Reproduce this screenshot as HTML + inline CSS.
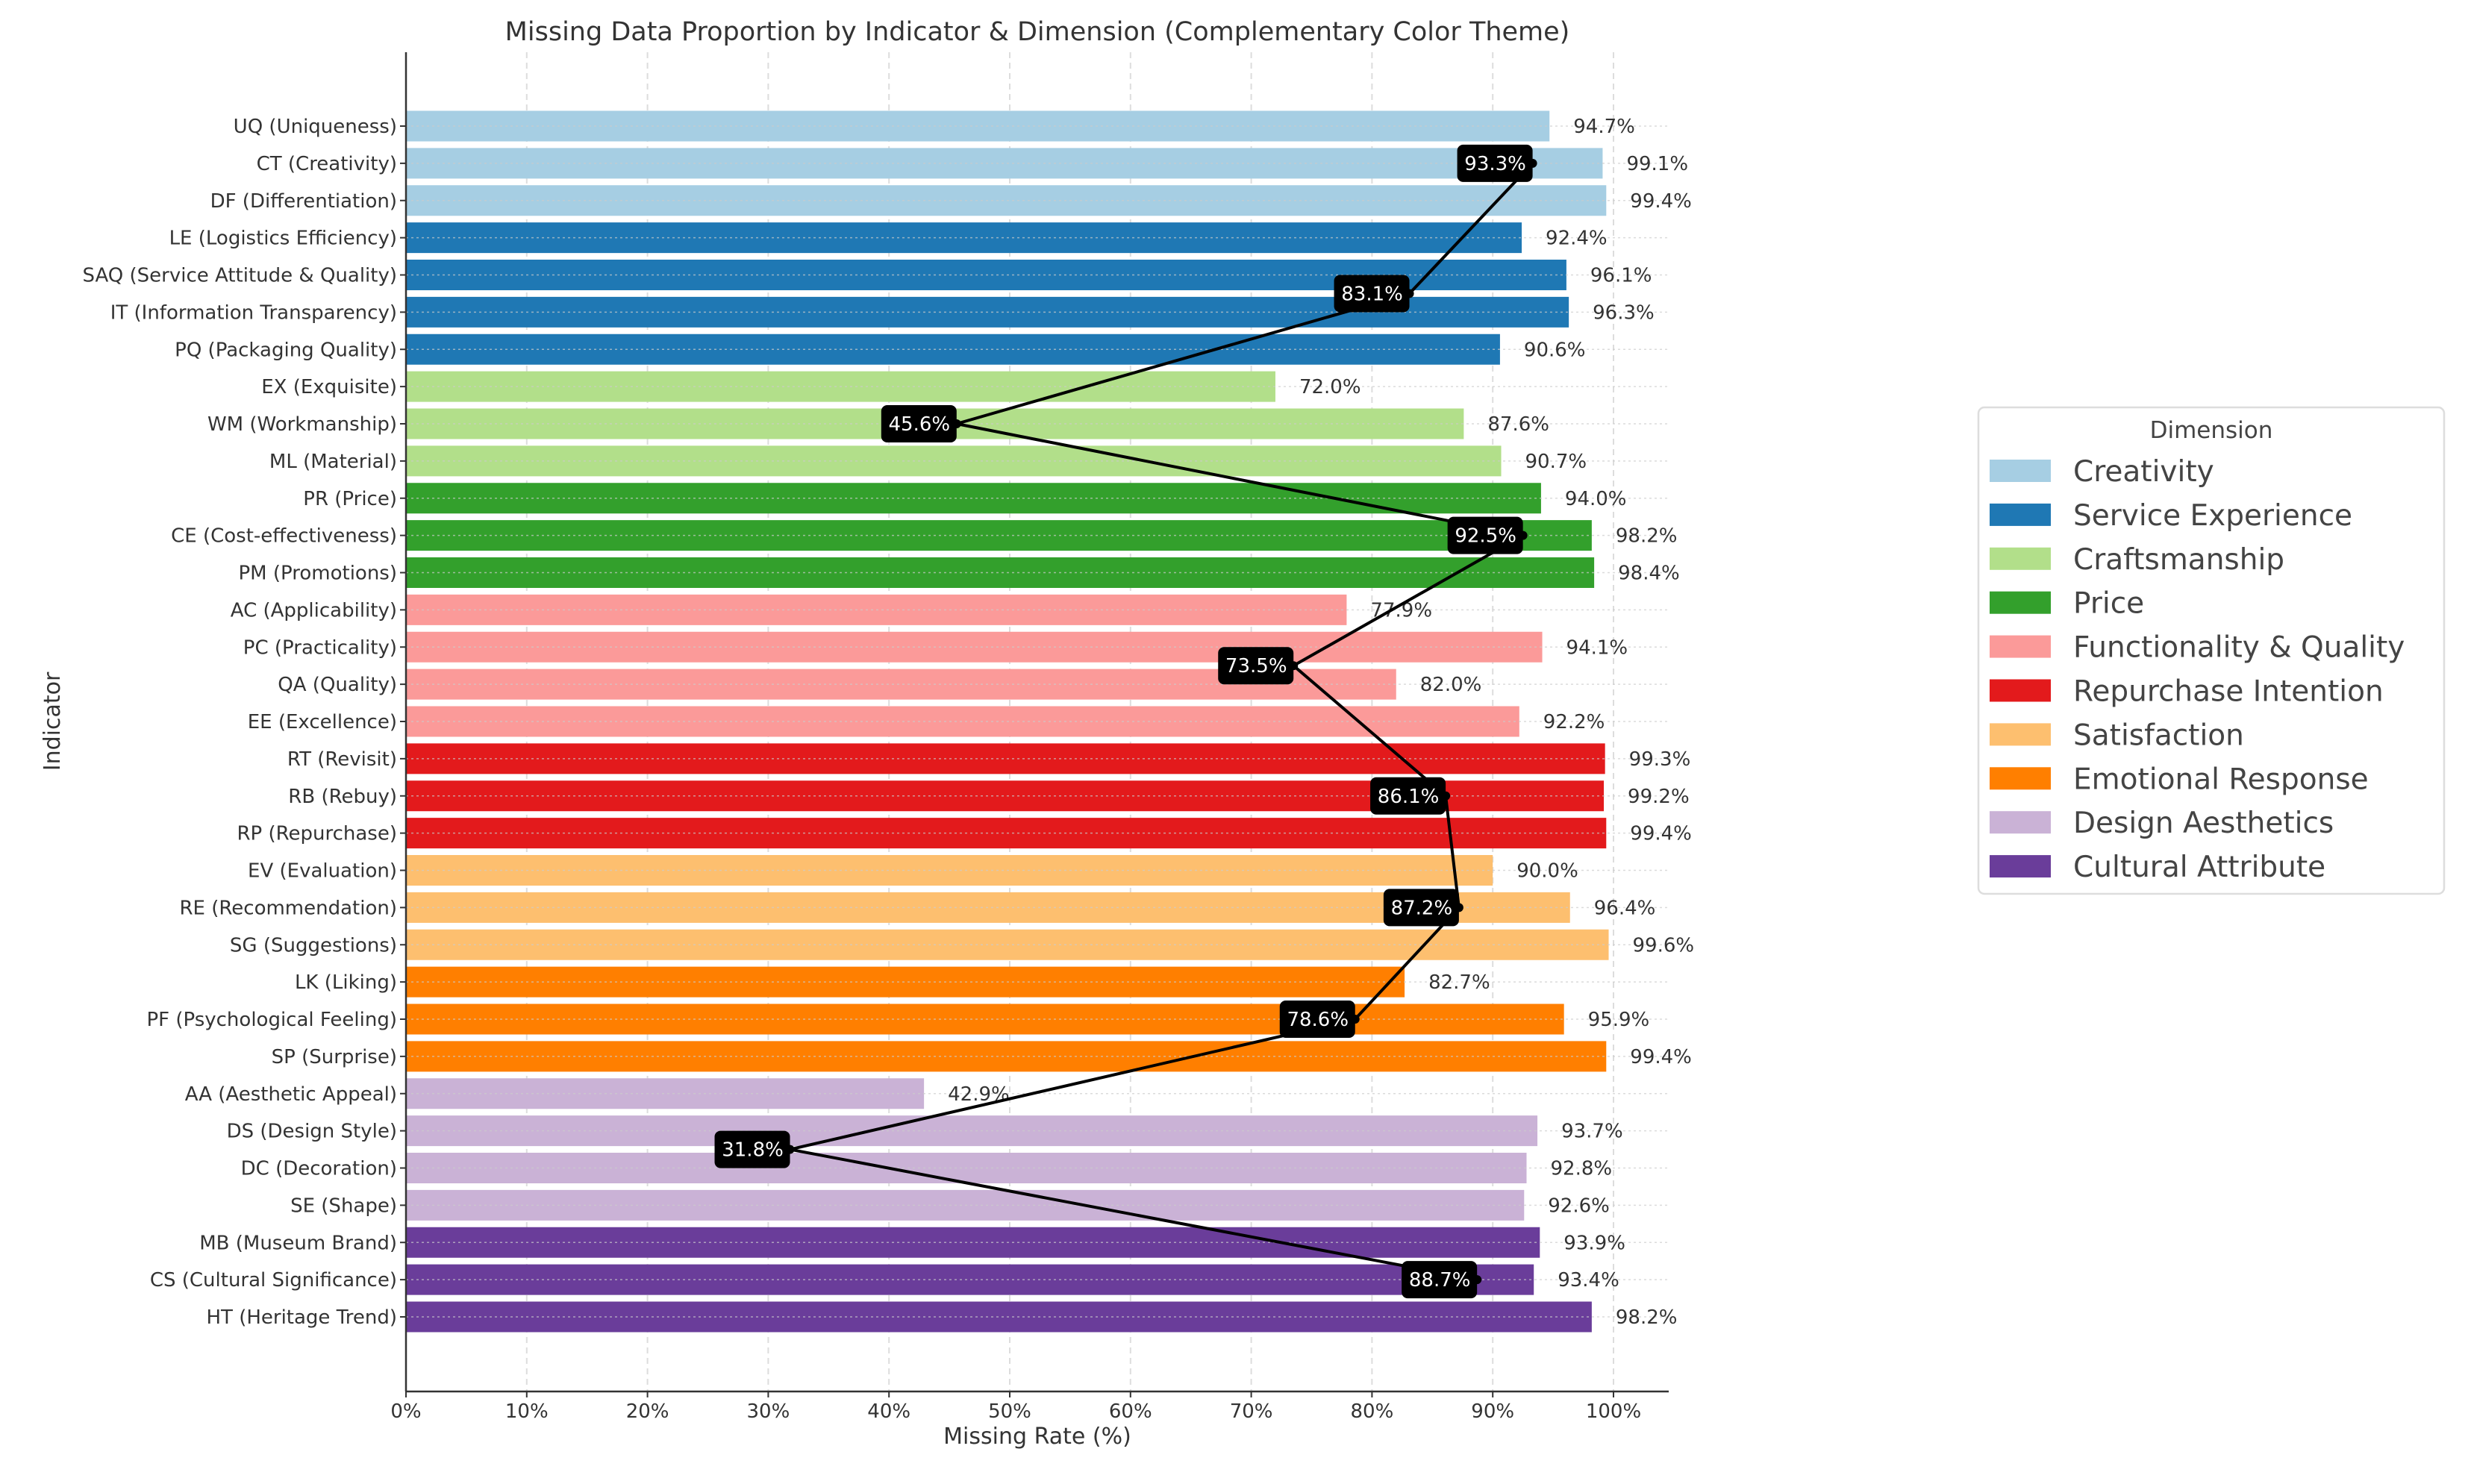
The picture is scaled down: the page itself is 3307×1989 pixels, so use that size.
<!DOCTYPE html>
<html><head><meta charset="utf-8">
<style>
html,body{margin:0;padding:0;background:#fff;}
svg{display:block;font-family:"DejaVu Sans","Liberation Sans",sans-serif;}
</style></head>
<body>
<svg id="chart" width="3307" height="1989" viewBox="0 0 3307 1989" xmlns="http://www.w3.org/2000/svg">
<text x="1390" y="54" font-size="35" text-anchor="middle" fill="#333">Missing Data Proportion by Indicator &amp; Dimension (Complementary Color Theme)</text>
<g id="grid"></g>
<g id="bars"></g>
<g id="axes"></g>
<g id="line"></g>
<text x="1390" y="1935" font-size="30" text-anchor="middle" fill="#333">Missing Rate (%)</text>
<text x="0" y="0" font-size="30" text-anchor="middle" fill="#333" transform="translate(80,967) rotate(-90)">Indicator</text>
<g id="legend"></g>
</svg>
<script>
const indicators = ["UQ (Uniqueness)","CT (Creativity)","DF (Differentiation)","LE (Logistics Efficiency)","SAQ (Service Attitude & Quality)","IT (Information Transparency)","PQ (Packaging Quality)","EX (Exquisite)","WM (Workmanship)","ML (Material)","PR (Price)","CE (Cost-effectiveness)","PM (Promotions)","AC (Applicability)","PC (Practicality)","QA (Quality)","EE (Excellence)","RT (Revisit)","RB (Rebuy)","RP (Repurchase)","EV (Evaluation)","RE (Recommendation)","SG (Suggestions)","LK (Liking)","PF (Psychological Feeling)","SP (Surprise)","AA (Aesthetic Appeal)","DS (Design Style)","DC (Decoration)","SE (Shape)","MB (Museum Brand)","CS (Cultural Significance)","HT (Heritage Trend)"];
const values = [94.7,99.1,99.4,92.4,96.1,96.3,90.6,72.0,87.6,90.7,94.0,98.2,98.4,77.9,94.1,82.0,92.2,99.3,99.2,99.4,90.0,96.4,99.6,82.7,95.9,99.4,42.9,93.7,92.8,92.6,93.9,93.4,98.2];
const dimIndex = [0,0,0,1,1,1,1,2,2,2,3,3,3,4,4,4,4,5,5,5,6,6,6,7,7,7,8,8,8,8,9,9,9];
const dimensions = ["Creativity","Service Experience","Craftsmanship","Price","Functionality & Quality","Repurchase Intention","Satisfaction","Emotional Response","Design Aesthetics","Cultural Attribute"];
const dimColors = ["#a6cee3","#1f78b4","#b2df8a","#33a02c","#fb9a99","#e31a1c","#fdbf6f","#ff7f00","#cab2d6","#6a3d9a"];
const dimMeans = [93.3,83.1,45.6,92.5,73.5,86.1,87.2,78.6,31.8,88.7];
const dimCenterRow = [1,4.5,8,11,14.5,18,21,24,27.5,31];
const xTicks = [0,10,20,30,40,50,60,70,80,90,100];

const NS="http://www.w3.org/2000/svg";
const X0=544, X100=2162, Y0=169, STEP=49.875, BH=41, AX_TOP=70, AX_BOT=1865, AX_R=2236;
const xs=v=>X0+(X100-X0)*v/100;
const ys=i=>Y0+i*STEP;
function mk(tag,attrs,parent){const e=document.createElementNS(NS,tag);for(const k in attrs)e.setAttribute(k,attrs[k]);parent.appendChild(e);return e;}
const grid=document.getElementById('grid'),bars=document.getElementById('bars'),axes=document.getElementById('axes'),line=document.getElementById('line'),legend=document.getElementById('legend');

xTicks.forEach(t=>{
  const g=mk('line',{x1:xs(t),x2:xs(t),y1:AX_TOP,y2:AX_BOT,stroke:'#ddd','stroke-width':2,'stroke-dasharray':'8,6'},grid);
  
  
  const tk=mk('line',{x1:xs(t),x2:xs(t),y1:AX_BOT,y2:AX_BOT+8,stroke:'#333','stroke-width':2},axes);
  
  
  const lb=mk('text',{x:xs(t),y:AX_BOT+35,'font-size':26,'text-anchor':'middle',fill:'#333'},axes);
  lb.textContent=t+'%';
  
  
});

values.forEach((v,i)=>{
  const y=ys(i);
  const r=mk('rect',{x:X0,y:y-BH/2,width:xs(v)-X0,height:BH,fill:dimColors[dimIndex[i]]},bars);
  
  
  const hg=mk('line',{x1:X0,x2:AX_R,y1:y,y2:y,stroke:'#ccc','stroke-width':1.5,'stroke-dasharray':'3,4',opacity:0.7},bars);
  
  
  const vl=mk('text',{x:xs(v)+32,y:y+9,'font-size':26,fill:'#333'},bars);
  vl.textContent=v.toFixed(1)+'%';
  
  
  const yt=mk('line',{x1:X0-8,x2:X0,y1:y,y2:y,stroke:'#333','stroke-width':2},axes);
  
  
  const yl=mk('text',{x:X0-12,y:y+9,'font-size':26,'text-anchor':'end',fill:'#333'},axes);
  yl.textContent=indicators[i];
  
  
});
const ya=mk('line',{x1:X0,x2:X0,y1:AX_TOP,y2:AX_BOT,stroke:'#333','stroke-width':2.5},axes);


const xa=mk('line',{x1:X0,x2:AX_R,y1:AX_BOT,y2:AX_BOT,stroke:'#333','stroke-width':2.5},axes);



const pts=dimMeans.map((m,k)=>xs(m)+','+ys(dimCenterRow[k])).join(' ');
const pl=mk('polyline',{points:pts,fill:'none',stroke:'#000','stroke-width':4},line);


dimMeans.forEach((m,k)=>{
  const px=xs(m),py=ys(dimCenterRow[k]);
  const c=mk('circle',{cx:px,cy:py,r:6,fill:'#000'},line);
  
  
  const b=mk('rect',{x:px-101,y:py-25,width:101,height:50,rx:8,fill:'#000'},line);
  
  
  const t=mk('text',{x:px-50,y:py+9,'font-size':26,'text-anchor':'middle',fill:'#fff'},line);
  t.textContent=m.toFixed(1)+'%';
  
  
});

const lb=mk('rect',{x:2651,y:546,width:624,height:652,rx:8,fill:'#fff',stroke:'#ddd','stroke-width':2.5},legend);


const lt=mk('text',{x:2963,y:587,'font-size':31,'text-anchor':'middle',fill:'#444'},legend);
lt.textContent='Dimension';


dimensions.forEach((d,k)=>{
  const y=631+k*58.9;
  const p=mk('rect',{x:2666,y:y-15,width:82,height:30,fill:dimColors[k]},legend);
  
  
  const t=mk('text',{x:2778,y:y+14,'font-size':39,fill:'#444'},legend);
  t.textContent=d;
  
  
});
</script>
</body></html>
